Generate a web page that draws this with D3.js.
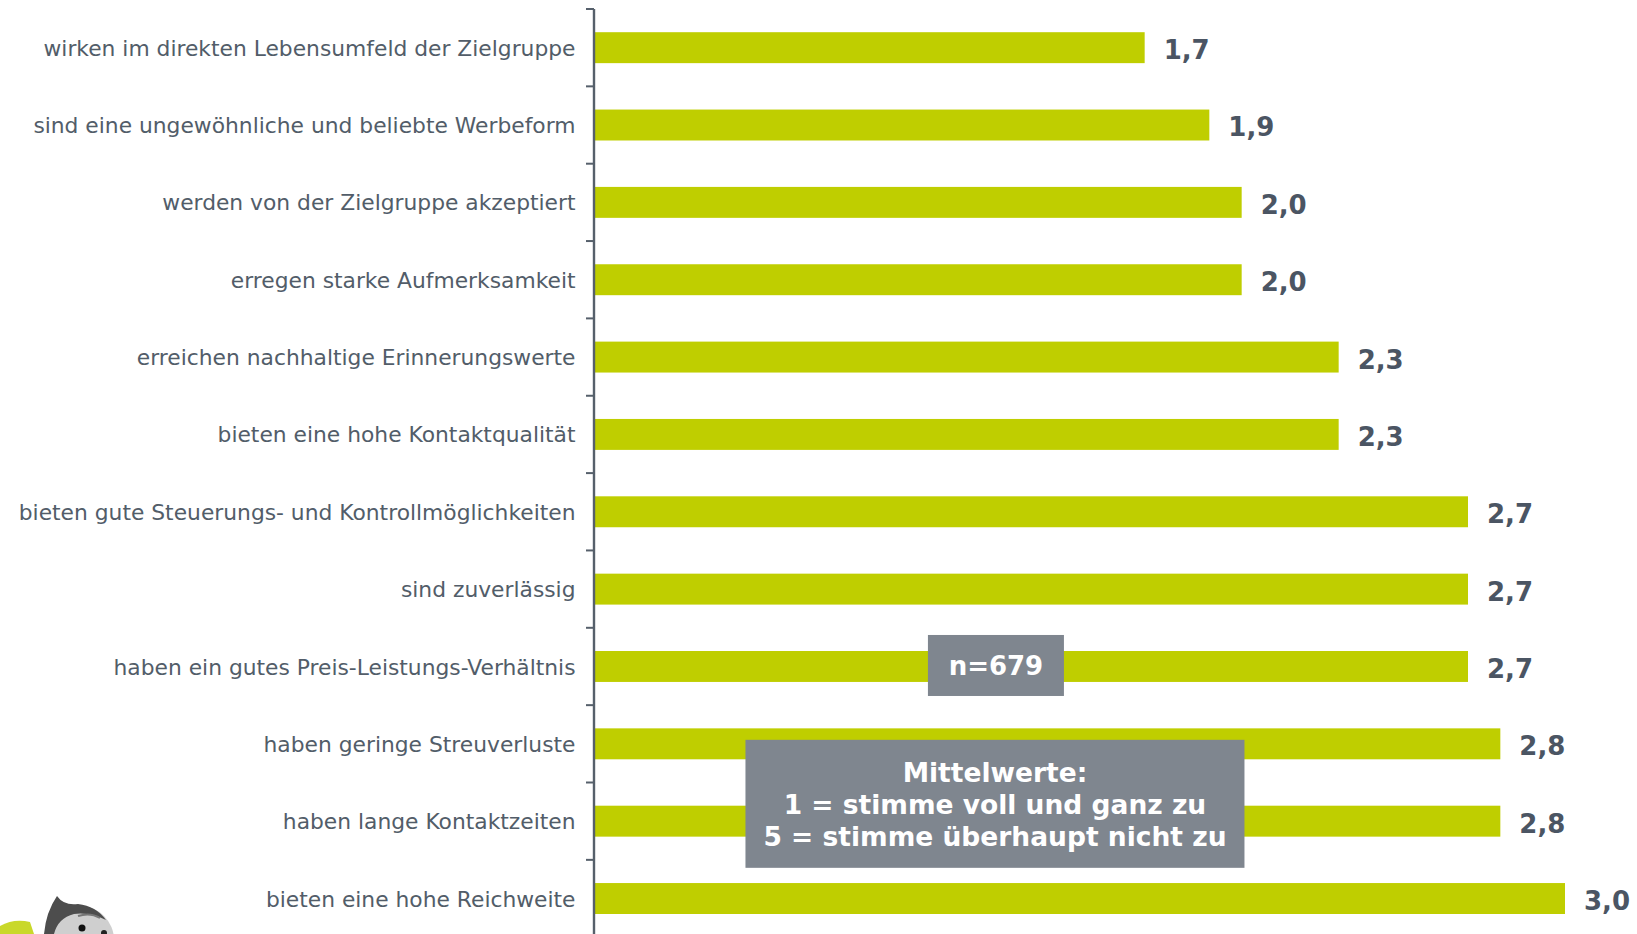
<!DOCTYPE html>
<html>
<head>
<meta charset="utf-8">
<script src="https://cdn.jsdelivr.net/npm/d3@7"></script>
<style>
  html, body { margin: 0; padding: 0; background: #ffffff; }
  svg { display: block; }
</style>
</head>
<body>
<svg id="chart" width="1637" height="934"></svg>
<script>
// ---- data ----
const categories = [
  "wirken im direkten Lebensumfeld der Zielgruppe",
  "sind eine ungewöhnliche und beliebte Werbeform",
  "werden von der Zielgruppe akzeptiert",
  "erregen starke Aufmerksamkeit",
  "erreichen nachhaltige Erinnerungswerte",
  "bieten eine hohe Kontaktqualität",
  "bieten gute Steuerungs- und Kontrollmöglichkeiten",
  "sind zuverlässig",
  "haben ein gutes Preis-Leistungs-Verhältnis",
  "haben geringe Streuverluste",
  "haben lange Kontaktzeiten",
  "bieten eine hohe Reichweite"
];
const values = [1.7, 1.9, 2.0, 2.0, 2.3, 2.3, 2.7, 2.7, 2.7, 2.8, 2.8, 3.0];
const sampleLabel = "n=679";
const noteLines = ["Mittelwerte:", "1 = stimme voll und ganz zu", "5 = stimme überhaupt nicht zu"];

// ---- layout ----
const W = 1637, H = 934;
const axisX = 595;
const svg = d3.select("#chart");

const x = d3.scaleLinear().domain([0, 3]).range([axisX, axisX + 970]);
const y = d3.scaleBand().domain(categories).range([9, 937.2]).paddingInner(0.6).paddingOuter(0.3);
const fmt = v => d3.format(".1f")(v).replace(".", ",");

const barColor = "#bfce00";
const labelColor = "#525d69";
const valueColor = "#4b5563";
const boxColor = "#7f868f";

// bars
svg.append("g").selectAll("rect")
  .data(values)
  .join("rect")
  .attr("x", x(0))
  .attr("y", (d, i) => y(categories[i]))
  .attr("width", d => x(d) - x(0))
  .attr("height", y.bandwidth())
  .attr("fill", barColor);

// value labels
svg.append("g").selectAll("text")
  .data(values)
  .join("text")
  .attr("x", d => x(d) + 19)
  .attr("y", (d, i) => y(categories[i]) + y.bandwidth() / 2)
  .attr("dy", "0.44em")
  .attr("font-family", "DejaVu Sans, Verdana, sans-serif")
  .attr("font-weight", "bold")
  .attr("font-size", 26)
  .attr("fill", valueColor)
  .text(fmt);

// category labels
svg.append("g").selectAll("text")
  .data(categories)
  .join("text")
  .attr("x", axisX - 19.5)
  .attr("y", d => y(d) + y.bandwidth() / 2)
  .attr("dy", "0.37em")
  .attr("text-anchor", "end")
  .attr("font-family", "DejaVu Sans, Verdana, sans-serif")
  .attr("font-size", 21.8)
  .attr("fill", labelColor)
  .text(d => d);

// axis line with ticks between categories
const step = y.step();
const tickYs = d3.range(categories.length).map(i => y(categories[i]) - (step - y.bandwidth()) / 2);
const axisG = svg.append("g");
axisG.append("line")
  .attr("x1", axisX - 1).attr("x2", axisX - 1)
  .attr("y1", tickYs[0]).attr("y2", H)
  .attr("stroke", "#56606b").attr("stroke-width", 2.4);
axisG.selectAll("line.tick")
  .data(tickYs)
  .join("line")
  .attr("class", "tick")
  .attr("x1", axisX - 9).attr("x2", axisX - 1)
  .attr("y1", d => d).attr("y2", d => d)
  .attr("stroke", "#56606b").attr("stroke-width", 2);

// n=679 box
const nCx = x(1.24), nCy = y(categories[8]) + y.bandwidth() / 2 - 1;
svg.append("rect")
  .attr("x", nCx - 68).attr("y", nCy - 30.5)
  .attr("width", 136).attr("height", 61)
  .attr("fill", boxColor);
svg.append("text")
  .attr("x", nCx).attr("y", nCy)
  .attr("dy", "0.36em")
  .attr("text-anchor", "middle")
  .attr("font-family", "DejaVu Sans, Verdana, sans-serif")
  .attr("font-weight", "bold")
  .attr("font-size", 26)
  .attr("fill", "#ffffff")
  .text(sampleLabel);

// note box
const bCx = x(1.237), bTop = y(categories[9]) + y.bandwidth() / 2 - 4;
svg.append("rect")
  .attr("x", bCx - 249.5).attr("y", bTop)
  .attr("width", 499).attr("height", 128)
  .attr("fill", boxColor);
svg.append("g").selectAll("text")
  .data(noteLines)
  .join("text")
  .attr("x", bCx)
  .attr("y", (d, i) => bTop + 42 + i * 32)
  .attr("text-anchor", "middle")
  .attr("font-family", "DejaVu Sans, Verdana, sans-serif")
  .attr("font-weight", "bold")
  .attr("font-size", 26.5)
  .attr("fill", "#ffffff")
  .text(d => d);

// small mascot decoration (bottom-left)
const m = svg.append("g");
m.append("path").attr("d", "M0,934 L0,926 Q14,918 30,922 L34,934 Z").attr("fill", "#c9d82a");
m.append("ellipse").attr("cx", 80).attr("cy", 940).attr("rx", 34).attr("ry", 34).attr("fill", "#cfcfcf");
m.append("path").attr("d", "M44,934 Q46,912 57,896 Q64,906 78,904 Q96,906 106,920 Q90,912 74,914 Q58,918 54,934 Z").attr("fill", "#4d4d4d");
m.append("path").attr("d", "M78,916 Q90,912 100,918").attr("fill", "none").attr("stroke", "#777").attr("stroke-width", 2);
m.append("circle").attr("cx", 82).attr("cy", 928).attr("r", 3.5).attr("fill", "#111");
m.append("circle").attr("cx", 104).attr("cy", 933).attr("r", 3).attr("fill", "#222");
</script>
</body>
</html>
